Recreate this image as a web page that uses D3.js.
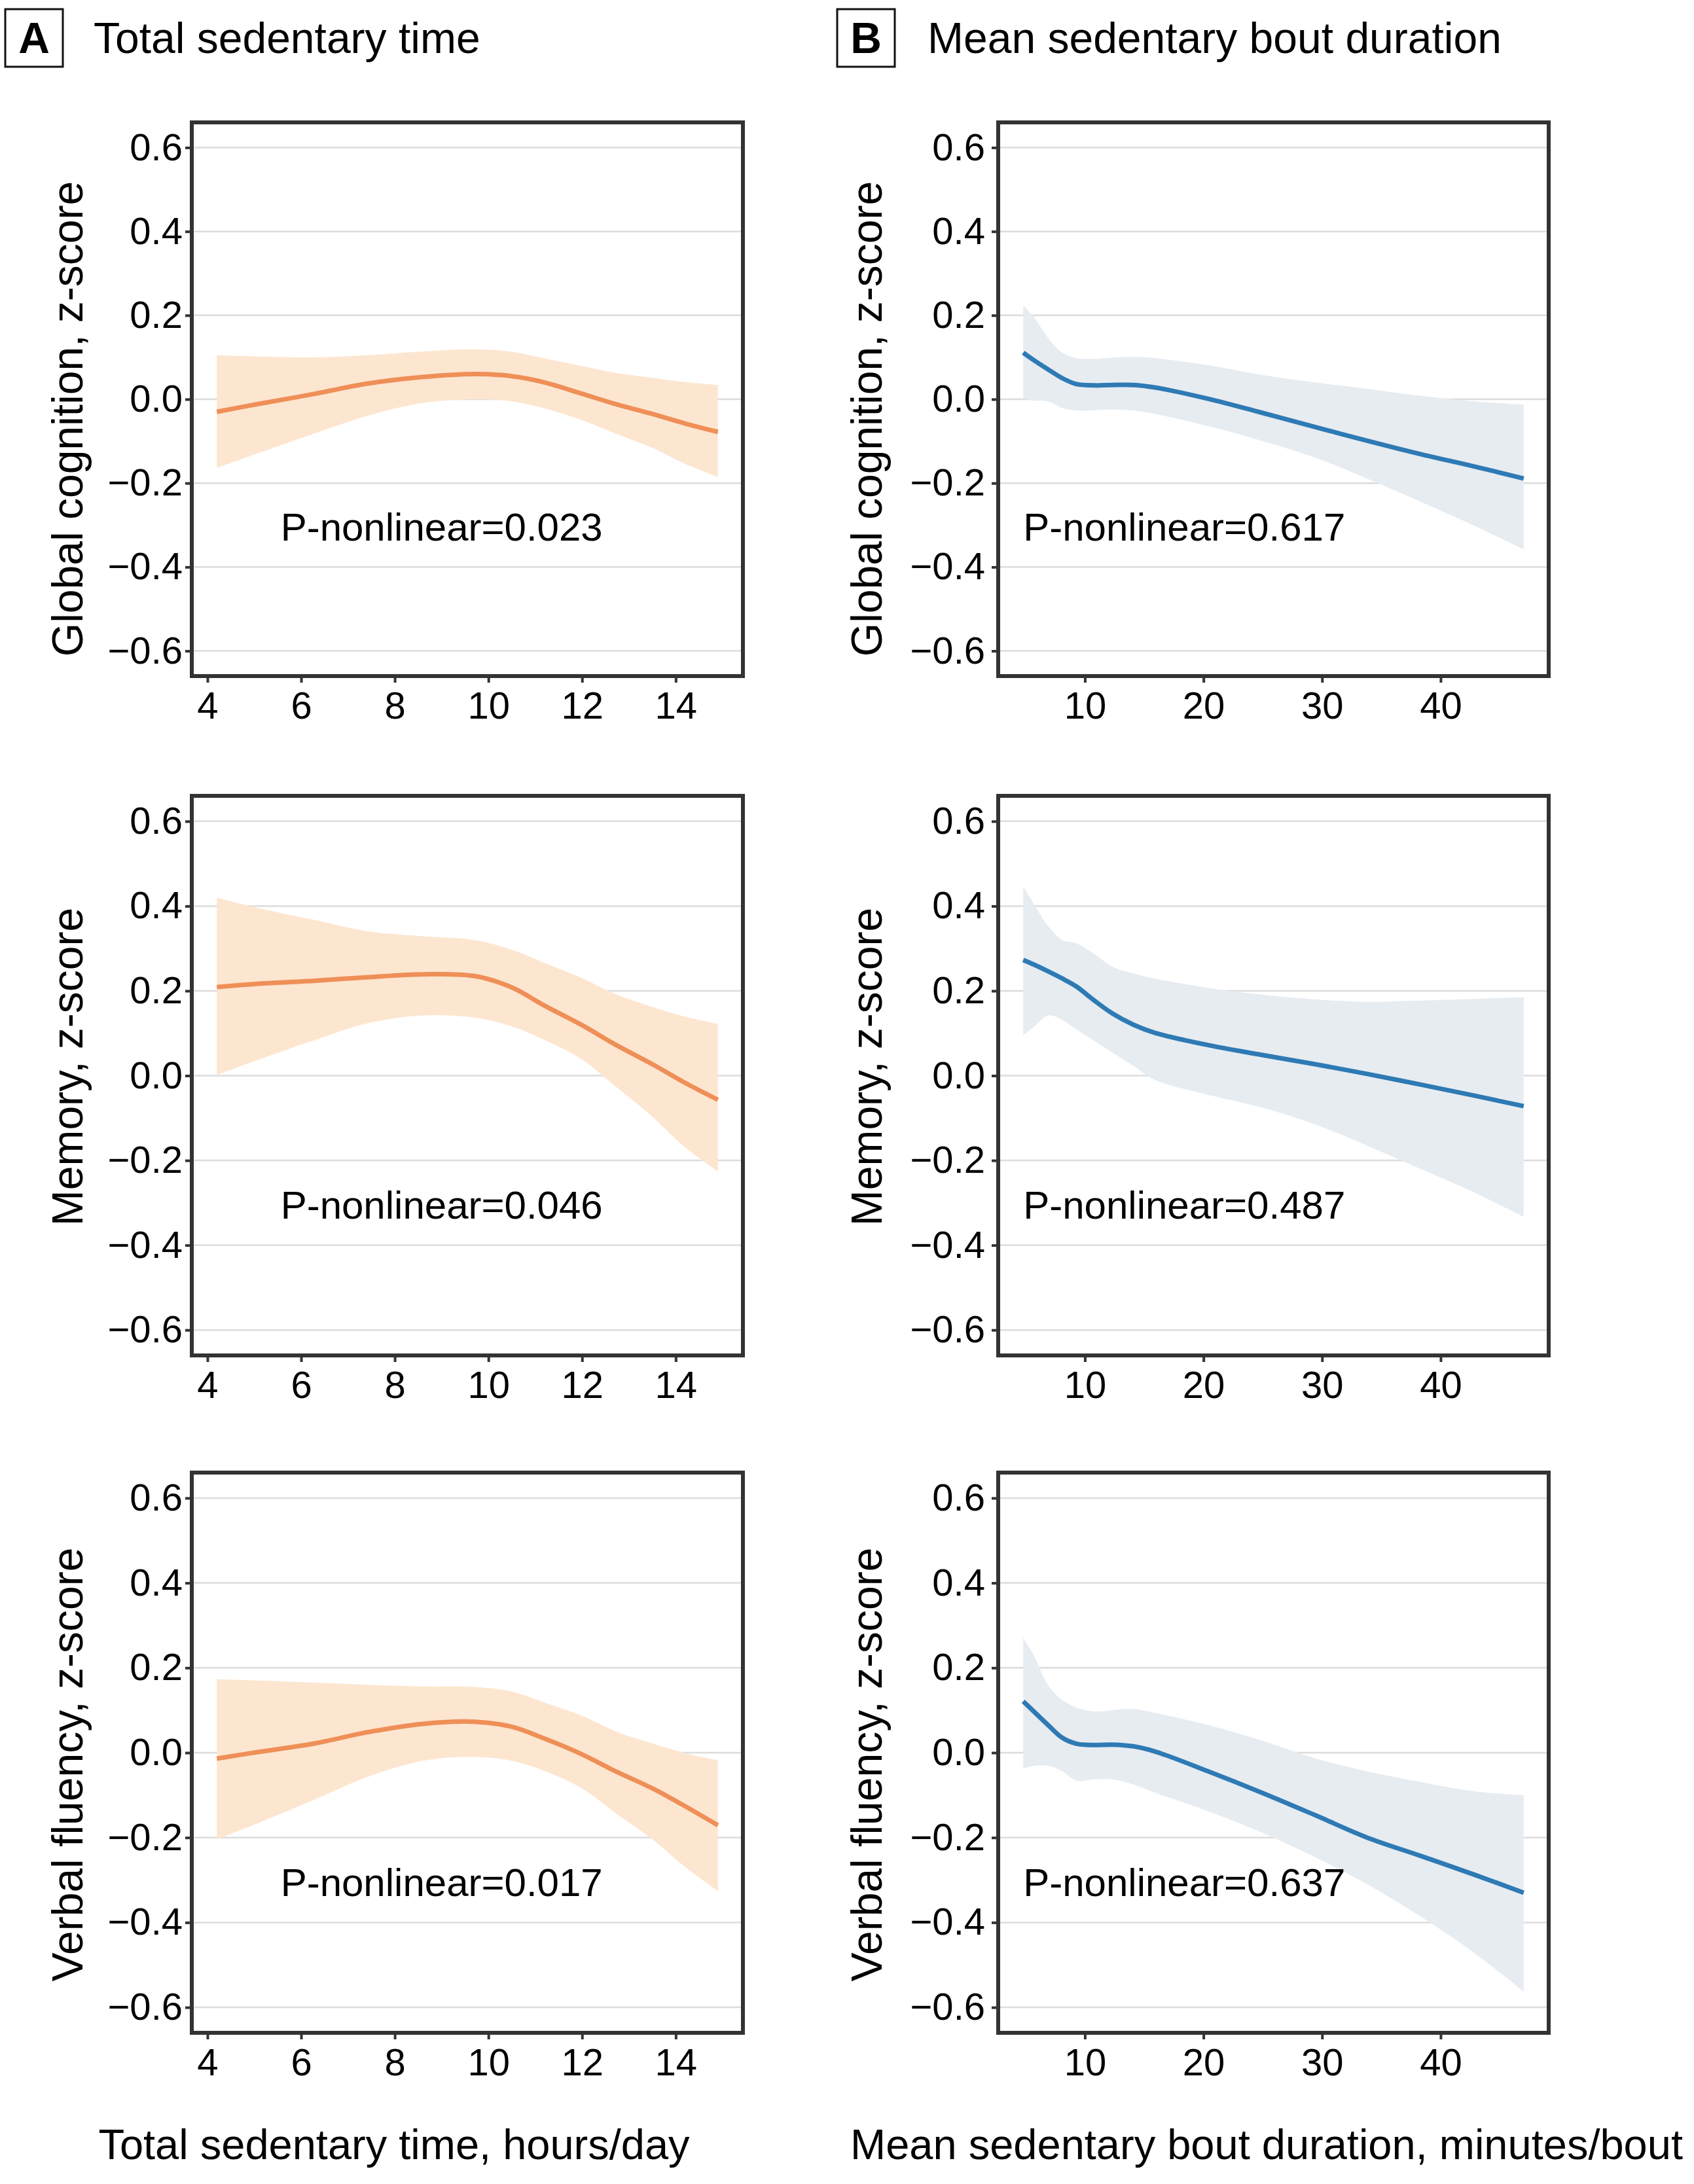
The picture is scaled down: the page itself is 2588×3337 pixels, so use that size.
<!DOCTYPE html>
<html><head><meta charset="utf-8">
<script src="https://cdn.jsdelivr.net/npm/d3@7"></script>
<style>
body{margin:0;background:#fff;}
svg{display:block;font-family:"Liberation Sans",Arial,Helvetica,sans-serif;}
</style>
</head><body>
<svg id="chart" width="2588" height="3337"></svg>
<script>
// ---------------- DATA ----------------
const xTotal = [4.2, 5.1, 6.3, 7.4, 8.6, 9.7, 10.5, 11.2, 12.0, 12.7, 13.5, 14.2, 14.9];
const xBout  = [4.8, 5.7, 6.9, 8.1, 9.3, 10.8, 12.3, 14.1, 15.9, 20.4, 24.9, 29.4, 33.8, 38.3, 42.8, 47.0];

const globalTotalEst = [-0.030,-0.011,0.013,0.037,0.053,0.060,0.055,0.040,0.013,-0.011,-0.035,-0.058,-0.078];
const globalTotalLo  = [-0.164,-0.128,-0.081,-0.040,-0.009,0.000,-0.005,-0.022,-0.050,-0.081,-0.116,-0.154,-0.185];
const globalTotalHi  = [0.105,0.102,0.100,0.105,0.114,0.119,0.113,0.097,0.079,0.063,0.051,0.041,0.034];

const memoryTotalEst = [0.209,0.217,0.224,0.232,0.239,0.235,0.208,0.165,0.119,0.074,0.027,-0.017,-0.057];
const memoryTotalLo  = [0.002,0.038,0.084,0.123,0.142,0.137,0.116,0.084,0.038,-0.024,-0.097,-0.169,-0.226];
const memoryTotalHi  = [0.420,0.395,0.367,0.341,0.329,0.320,0.297,0.266,0.230,0.193,0.162,0.139,0.122];

const verbalTotalEst = [-0.014,0.002,0.022,0.048,0.068,0.073,0.061,0.033,-0.004,-0.043,-0.084,-0.126,-0.171];
const verbalTotalLo  = [-0.204,-0.165,-0.110,-0.058,-0.019,-0.010,-0.019,-0.043,-0.084,-0.141,-0.204,-0.269,-0.326];
const verbalTotalHi  = [0.173,0.170,0.165,0.160,0.156,0.155,0.144,0.118,0.087,0.051,0.022,-0.001,-0.018];

const globalBoutEst = [0.111,0.093,0.071,0.050,0.036,0.033,0.034,0.034,0.028,0.001,-0.032,-0.066,-0.099,-0.131,-0.160,-0.189];
const globalBoutLo  = [0.001,-0.003,-0.005,-0.021,-0.027,-0.026,-0.024,-0.027,-0.035,-0.064,-0.099,-0.139,-0.189,-0.244,-0.301,-0.358];
const globalBoutHi  = [0.224,0.196,0.146,0.111,0.098,0.096,0.099,0.101,0.098,0.081,0.058,0.040,0.025,0.008,-0.005,-0.013];

const memoryBoutEst = [0.273,0.262,0.246,0.229,0.210,0.177,0.147,0.120,0.101,0.072,0.049,0.027,0.004,-0.021,-0.047,-0.072];
const memoryBoutLo  = [0.096,0.115,0.142,0.131,0.109,0.082,0.055,0.023,-0.010,-0.045,-0.075,-0.115,-0.165,-0.220,-0.275,-0.333];
const memoryBoutHi  = [0.447,0.405,0.353,0.320,0.312,0.287,0.257,0.241,0.229,0.207,0.191,0.180,0.174,0.177,0.181,0.185];

const verbalBoutEst = [0.121,0.097,0.065,0.035,0.021,0.018,0.019,0.015,0.003,-0.044,-0.094,-0.147,-0.200,-0.243,-0.287,-0.330];
const verbalBoutLo  = [-0.038,-0.031,-0.031,-0.044,-0.066,-0.063,-0.063,-0.075,-0.094,-0.138,-0.188,-0.246,-0.310,-0.386,-0.471,-0.563];
const verbalBoutHi  = [0.271,0.229,0.159,0.124,0.106,0.097,0.100,0.103,0.094,0.065,0.029,-0.013,-0.044,-0.069,-0.091,-0.100];

const yTicks = [-0.6, -0.4, -0.2, 0.0, 0.2, 0.4, 0.6];
const xTicksTotal = [4, 6, 8, 10, 12, 14];
const xTicksBout = [10, 20, 30, 40];

const yLabels = ["Global cognition, z-score", "Memory, z-score", "Verbal fluency, z-score"];
const pTotal = ["P-nonlinear=0.023", "P-nonlinear=0.046", "P-nonlinear=0.017"];
const pBout  = ["P-nonlinear=0.617", "P-nonlinear=0.487", "P-nonlinear=0.637"];
const columnTitles = ["Total sedentary time", "Mean sedentary bout duration"];
const columnLetters = ["A", "B"];
const xTitles = ["Total sedentary time, hours/day", "Mean sedentary bout duration, minutes/bout"];

// ---------------- LAYOUT ----------------
const cols = [
  {x0: 293, x1: 1135, yPad: 4, yTitleX: 126, box: [8, 14], titleX: 143, xTitleX: 602,
   xs: xTotal, xTicks: xTicksTotal, line: "#EF8F58", band: "#FDE6D0", pAnchor: "middle", pX: 9},
  {x0: 1525, x1: 2366, yPad: 10, yTitleX: 1347, box: [1279, 14], titleX: 1417, xTitleX: 1935,
   xs: xBout, xTicks: xTicksBout, line: "#2E7AB4", band: "#E7ECF1", pAnchor: "start", pX: 4.8}
];
const rows = [
  {y0: 187, y1: 1033, titleY: 640},
  {y0: 1216, y1: 2071, titleY: 1630},
  {y0: 2250, y1: 3106, titleY: 2696}
];
const series = [
  [[globalTotalEst, globalTotalLo, globalTotalHi], [memoryTotalEst, memoryTotalLo, memoryTotalHi], [verbalTotalEst, verbalTotalLo, verbalTotalHi]],
  [[globalBoutEst, globalBoutLo, globalBoutHi], [memoryBoutEst, memoryBoutLo, memoryBoutHi], [verbalBoutEst, verbalBoutLo, verbalBoutHi]]
];
const pTexts = [pTotal, pBout];

const svg = d3.select("#chart");
svg.append("rect").attr("width", 2588).attr("height", 3337).attr("fill", "#fff");

const fmtY = d3.format(".1f");
const curve = d3.curveCatmullRom.alpha(0.5);

cols.forEach((c, ci) => {
  const ext = d3.extent(c.xs);
  const pad = (ext[1] - ext[0]) * 0.05;
  const x = d3.scaleLinear().domain([ext[0] - pad, ext[1] + pad]).range([c.x0, c.x1]);

  // column header
  svg.append("rect").attr("x", c.box[0]).attr("y", c.box[1]).attr("width", 88).attr("height", 88)
    .attr("fill", "none").attr("stroke", "#111").attr("stroke-width", 3);
  svg.append("text").attr("x", c.box[0] + 44).attr("y", c.box[1] + 67).attr("text-anchor", "middle")
    .attr("font-size", 66).attr("font-weight", "bold").attr("fill", "#000").text(columnLetters[ci]);
  svg.append("text").attr("x", c.titleX).attr("y", 81).attr("font-size", 66).attr("fill", "#000")
    .text(columnTitles[ci]);

  rows.forEach((r, ri) => {
    const y = d3.scaleLinear().domain([-0.66, 0.66]).range([r.y1, r.y0]);
    const [est, lo, hi] = series[ci][ri];
    const g = svg.append("g");

    // grid
    g.selectAll("line.grid").data(yTicks).join("line")
      .attr("x1", c.x0).attr("x2", c.x1).attr("y1", d => y(d)).attr("y2", d => y(d))
      .attr("stroke", "#DCDCDC").attr("stroke-width", 2.5);

    const pts = c.xs.map((xv, i) => ({x: xv, e: est[i], l: lo[i], h: hi[i]}));
    const area = d3.area().x(d => x(d.x)).y0(d => y(d.l)).y1(d => y(d.h)).curve(curve);
    const line = d3.line().x(d => x(d.x)).y(d => y(d.e)).curve(curve);
    g.append("path").datum(pts).attr("d", area).attr("fill", c.band).attr("stroke", "none");
    g.append("path").datum(pts).attr("d", line).attr("fill", "none").attr("stroke", c.line)
      .attr("stroke-width", 7).attr("stroke-linecap", "butt");

    // annotation
    g.append("text").attr("x", x(c.pX)).attr("y", y(-0.305)).attr("dy", "0.35em")
      .attr("text-anchor", c.pAnchor).attr("font-size", 60).attr("fill", "#000")
      .text(pTexts[ci][ri]);

    // frame
    g.append("rect").attr("x", c.x0).attr("y", r.y0).attr("width", c.x1 - c.x0).attr("height", r.y1 - r.y0)
      .attr("fill", "none").attr("stroke", "#333").attr("stroke-width", 6);

    // axes
    const ax = g.append("g").attr("transform", `translate(0,${r.y1})`)
      .call(d3.axisBottom(x).tickValues(c.xTicks).tickSize(10).tickPadding(14).tickFormat(d3.format("d")));
    const ay = g.append("g").attr("transform", `translate(${c.x0},0)`)
      .call(d3.axisLeft(y).tickValues(yTicks).tickSize(10).tickPadding(c.yPad).tickFormat(fmtY));
    [ax, ay].forEach(a => {
      a.select(".domain").remove();
      a.selectAll(".tick line").attr("stroke", "#333").attr("stroke-width", 4);
      a.selectAll(".tick text").attr("font-size", 58).attr("fill", "#000")
        .attr("font-family", '"Liberation Sans",Arial,sans-serif');
    });

    // y title
    svg.append("text").attr("transform", `translate(${c.yTitleX},${r.titleY}) rotate(-90)`)
      .attr("text-anchor", "middle").attr("font-size", 66).attr("fill", "#000").text(yLabels[ri]);
  });

  svg.append("text").attr("x", c.xTitleX).attr("y", 3299).attr("text-anchor", "middle")
    .attr("font-size", 65).attr("fill", "#000").text(xTitles[ci]);
});
</script>
</body></html>
